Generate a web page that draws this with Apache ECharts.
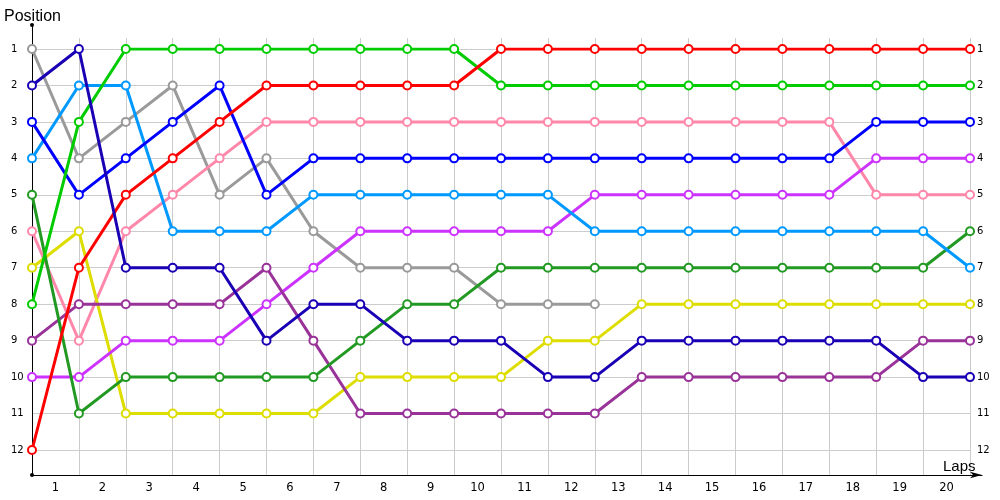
<!DOCTYPE html>
<html>
<head>
<meta charset="utf-8">
<title>Positions by lap</title>
<style>
  html, body { margin: 0; padding: 0; background: #fff; }
  #chart { width: 1000px; height: 500px; }
</style>
<script src="https://cdn.jsdelivr.net/npm/echarts@6/dist/echarts.min.js"></script>
</head>
<body>
<div id="chart"></div>
<script>
// laps 0..20, labels sit between the laps
const laps = [0, 1, 2, 3, 4, 5, 6, 7, 8, 9, 10, 11, 12, 13, 14, 15, 16, 17, 18, 19, 20];
const lapLabels = ['1', '2', '3', '4', '5', '6', '7', '8', '9', '10',
  '11', '12', '13', '14', '15', '16', '17', '18', '19', '20'];

// position of each car per lap (null = retired)
const red = [12, 7, 5, 4, 3, 2, 2, 2, 2, 2, 1, 1, 1, 1, 1, 1, 1, 1, 1, 1, 1];
const green = [8, 3, 1, 1, 1, 1, 1, 1, 1, 1, 2, 2, 2, 2, 2, 2, 2, 2, 2, 2, 2];
const navy = [2, 1, 7, 7, 7, 9, 8, 8, 9, 9, 9, 10, 10, 9, 9, 9, 9, 9, 9, 10, 10];
const gray = [1, 4, 3, 2, 5, 4, 6, 7, 7, 7, 8, 8, 8, null, null, null, null, null, null, null, null];
const blue = [3, 5, 4, 3, 2, 5, 4, 4, 4, 4, 4, 4, 4, 4, 4, 4, 4, 4, 3, 3, 3];
const lightBlue = [4, 2, 2, 6, 6, 6, 5, 5, 5, 5, 5, 5, 6, 6, 6, 6, 6, 6, 6, 6, 7];
const pink = [6, 9, 6, 5, 4, 3, 3, 3, 3, 3, 3, 3, 3, 3, 3, 3, 3, 3, 5, 5, 5];
const darkGreen = [5, 11, 10, 10, 10, 10, 10, 9, 8, 8, 7, 7, 7, 7, 7, 7, 7, 7, 7, 7, 6];
const yellow = [7, 6, 11, 11, 11, 11, 11, 10, 10, 10, 10, 9, 9, 8, 8, 8, 8, 8, 8, 8, 8];
const purple = [9, 8, 8, 8, 8, 7, 9, 11, 11, 11, 11, 11, 11, 10, 10, 10, 10, 10, 10, 9, 9];
const magenta = [10, 10, 9, 9, 9, 8, 7, 6, 6, 6, 6, 6, 5, 5, 5, 5, 5, 5, 4, 4, 4];

const cars = [
  { name: 'Gray', data: gray, color: '#9a9a9a' },
  { name: 'Pink', data: pink, color: '#ff88aa' },
  { name: 'Yellow', data: yellow, color: '#dddd00' },
  { name: 'Magenta', data: magenta, color: '#cc33ff' },
  { name: 'Purple', data: purple, color: '#993399' },
  { name: 'DarkGreen', data: darkGreen, color: '#229922' },
  { name: 'LightBlue', data: lightBlue, color: '#0099ff' },
  { name: 'Blue', data: blue, color: '#0000ff' },
  { name: 'Green', data: green, color: '#00cc00' },
  { name: 'Red', data: red, color: '#ff0000' },
  { name: 'Navy', data: navy, color: '#1a00b4' },
];

const chart = echarts.init(document.getElementById('chart'));
const font = 'DejaVu Sans';

chart.setOption({
  animation: false,
  backgroundColor: '#fff',
  title: [
    { text: 'Position', left: 4, top: 9, padding: 0,
      textStyle: { fontFamily: 'Liberation Sans', fontSize: 16, fontWeight: 'normal', color: '#000' } },
    { text: 'Laps', left: 943, top: 459, padding: 0,
      textStyle: { fontFamily: 'Liberation Sans', fontSize: 15, fontWeight: 'normal', color: '#000' } },
  ],
  grid: [
    // frame (black axes)
    { left: 32, right: 18, top: 25, bottom: 25 },
    // vertical grid lines + lap labels
    { left: 32, right: 30, top: 38, bottom: 25 },
    // data
    { left: 32, right: 30, top: 49, bottom: 50 },
  ],
  xAxis: [
    {
      gridIndex: 0, type: 'value', min: 0, max: 1,
      axisLine: { show: true, symbol: ['none', 'arrow'], symbolSize: [5, 12],
        lineStyle: { color: '#000', width: 1 } },
      axisTick: { show: false }, axisLabel: { show: false }, splitLine: { show: false },
    },
    {
      gridIndex: 1, type: 'value', min: 0, max: 20, interval: 1, position: 'bottom',
      axisLine: { show: false }, axisTick: { show: false }, axisLabel: { show: false },
      splitLine: { show: true, lineStyle: { color: '#cccccc', width: 1 } },
    },
    {
      gridIndex: 1, type: 'category', data: lapLabels, boundaryGap: true, position: 'bottom',
      axisLine: { show: false }, axisTick: { show: false },
      axisLabel: { margin: 7, fontFamily: font, fontSize: 11.5, color: '#000' },
      splitLine: { show: false },
    },
    {
      gridIndex: 2, type: 'category', data: laps, boundaryGap: false, show: false,
    },
  ],
  yAxis: [
    {
      gridIndex: 0, type: 'value', min: 0, max: 1,
      axisLine: { show: true, symbol: ['circle', 'circle'], symbolSize: [4, 4],
        lineStyle: { color: '#000', width: 1 } },
      axisTick: { show: false }, axisLabel: { show: false }, splitLine: { show: false },
    },
    {
      gridIndex: 1, type: 'value', min: 0, max: 1, show: false,
    },
    {
      gridIndex: 2, type: 'value', inverse: true, min: 1, max: 12, interval: 1, position: 'left',
      axisLine: { show: false }, axisTick: { show: false },
      axisLabel: { margin: 21, align: 'left', fontFamily: font, fontSize: 10, color: '#000' },
      splitLine: { show: true, lineStyle: { color: '#cccccc', width: 1 } },
    },
    {
      gridIndex: 2, type: 'value', inverse: true, min: 1, max: 12, interval: 1, position: 'right',
      axisLine: { show: false }, axisTick: { show: false },
      axisLabel: { margin: 7, fontFamily: font, fontSize: 10, color: '#000' },
      splitLine: { show: false },
    },
  ],
  series: cars.map((c) => ({
    name: c.name,
    type: 'line',
    xAxisIndex: 3,
    yAxisIndex: 2,
    data: c.data,
    connectNulls: false,
    symbol: 'emptyCircle',
    symbolSize: 8,
    showAllSymbol: true,
    lineStyle: { color: c.color, width: 3 },
    itemStyle: { color: c.color, borderColor: c.color, borderWidth: 1 },
    emphasis: { disabled: true },
  })),
});
</script>
</body>
</html>
